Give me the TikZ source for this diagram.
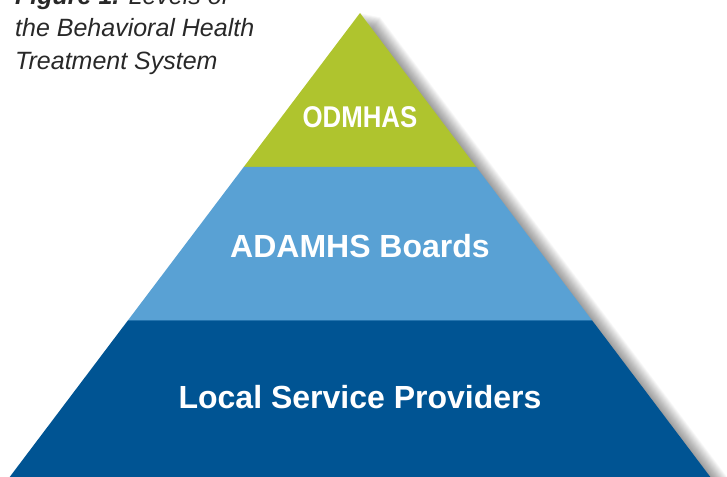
\documentclass[tikz,border=0pt]{standalone}
\usepackage{fontspec}
\setmainfont{Liberation Sans}
\newfontfamily\narrowfont{Liberation Sans}[FakeStretch=0.86]
\usetikzlibrary{calc}

\definecolor{levelgreen}{RGB}{175,196,46}
\definecolor{levellight}{RGB}{89,161,212}
\definecolor{leveldark}{RGB}{0,84,147}
\definecolor{captiongray}{RGB}{40,40,40}

\begin{document}
\begin{tikzpicture}[x=1pt,y=-1pt,
    levellabel/.style={text=white,inner sep=0pt,anchor=base,font=\bfseries\fontsize{32}{38}\selectfont},
    captionline/.style={anchor=base west,inner sep=0pt,text=captiongray,font=\itshape\fontsize{25}{30}\selectfont}]
      \useasboundingbox (0,0) rectangle (727,476);
      \clip (0,0) rectangle (727,476);
      \coordinate (apex) at (360,13);
      \coordinate (baseleft) at (-2.4,493);
      \coordinate (baseright) at (722.4,493);
      \coordinate (gl) at ($(apex)!0.3208!(baseleft)$);
      \coordinate (gr) at ($(apex)!0.3208!(baseright)$);
      \coordinate (bl) at ($(apex)!0.6396!(baseleft)$);
      \coordinate (br) at ($(apex)!0.6396!(baseright)$);
      % soft shadow on the right
      \foreach \s in {1,...,20}
        \fill[black,opacity=0.025] ($(apex)+(\s,0.2*\s)$) -- ($(baseright)+(\s,0.2*\s)$) -- ($(baseleft)+(\s,0.2*\s)$) -- cycle;
      \fill[levelgreen] (apex) -- (gr) -- (gl) -- cycle;
      \fill[levellight] (gl) -- (gr) -- (br) -- (bl) -- cycle;
      \fill[leveldark] (bl) -- (br) -- (baseright) -- (baseleft) -- cycle;
      \draw[leveldark!60!levellight,line width=1pt] (bl) -- (br);
      \node[levellabel,font=\narrowfont\bfseries\fontsize{30}{36}\selectfont] (odmhas) at (360,128) {ODMHAS};
      \node[levellabel] (boards) at (360,257) {ADAMHS Boards};
      \node[levellabel] (providers) at (360,408) {Local Service Providers};
      \node[captionline] (figline1) at (15,5) {\textbf{Figure 1.} Levels of};
      \node[captionline] (figline2) at (15,37) {the Behavioral Health};
      \node[captionline] (figline3) at (15,70) {Treatment System};
    \end{tikzpicture}
\end{document}
